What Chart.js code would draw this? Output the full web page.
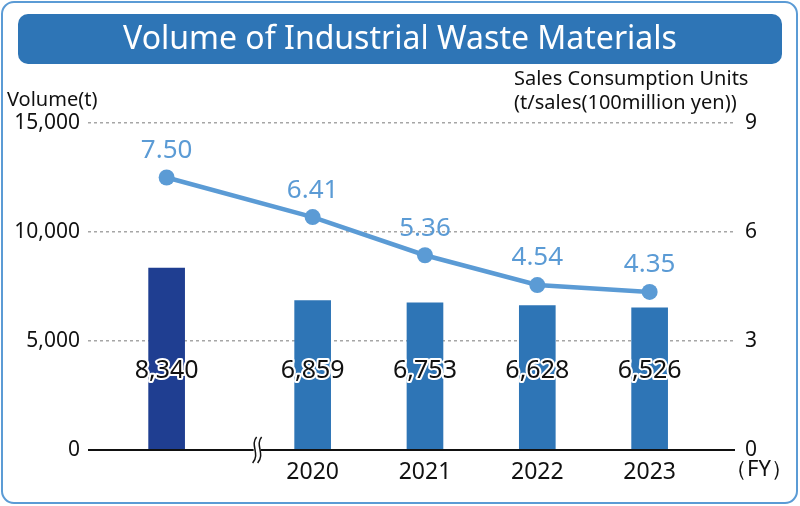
<!DOCTYPE html>
<html>
<head>
<meta charset="utf-8">
<script src="https://cdn.jsdelivr.net/npm/chart.js@4.4.0/dist/chart.umd.min.js"></script>
<style>
  html, body { margin: 0; padding: 0; background: #fff; }
  #wrap { position: relative; width: 800px; height: 506px; }
  canvas { position: absolute; left: 0; top: 0; }
</style>
</head>
<body>
<div id="wrap"><canvas id="chart" width="800" height="506"></canvas></div>
<script>
// data
const categories = ['', '2020', '2021', '2022', '2023'];
const xPositions = [2018.7, 2020, 2021, 2022, 2023]; // first bar sits left of the axis break
const volumes = [8340, 6859, 6753, 6628, 6526];
const units = [7.50, 6.41, 5.36, 4.54, 4.35];
const leftTicks = [0, 5000, 10000, 15000];
const rightTicks = [0, 3, 6, 9];

const FONT = '"Noto Sans", "Open Sans", sans-serif';
const barColors = ['#1f3e91', '#2e75b6', '#2e75b6', '#2e75b6', '#2e75b6'];
const lineColor = '#5b9bd5';

function roundRect(ctx, x, y, w, h, r) {
  ctx.beginPath();
  ctx.moveTo(x + r, y);
  ctx.arcTo(x + w, y, x + w, y + h, r);
  ctx.arcTo(x + w, y + h, x, y + h, r);
  ctx.arcTo(x, y + h, x, y, r);
  ctx.arcTo(x, y, x + w, y, r);
  ctx.closePath();
}

const decor = {
  id: 'decor',
  beforeDraw(chart) {
    const ctx = chart.ctx;
    ctx.save();
    ctx.fillStyle = '#fff';
    ctx.fillRect(0, 0, 800, 506);
    // outer frame
    roundRect(ctx, 2, 2, 795, 501, 12);
    ctx.lineWidth = 2;
    ctx.strokeStyle = '#5b9bd5';
    ctx.stroke();
    // title banner
    roundRect(ctx, 18, 14, 764, 50, 10);
    ctx.fillStyle = '#2e75b6';
    ctx.fill();
    ctx.fillStyle = '#fff';
    ctx.font = '32px ' + FONT;
    ctx.textAlign = 'center';
    ctx.textBaseline = 'middle';
    ctx.fillText('Volume of Industrial Waste Materials', 400, 40);
    // axis titles
    ctx.fillStyle = '#111';
    ctx.font = '20px ' + FONT;
    ctx.textAlign = 'left';
    ctx.fillText('Volume(t)', 7, 100);
    ctx.fillText('Sales Consumption Units', 514, 79);
    ctx.fillText('(t/sales(100million yen))', 514, 103);
    ctx.restore();
  },
  afterDatasetsDraw(chart) {
    const ctx = chart.ctx;
    const x = chart.scales.x;
    const yl = chart.scales.y;
    const yr = chart.scales.y1;
    const base = yl.getPixelForValue(0);
    ctx.save();
    // base line with break mark
    const gap = x.getPixelForValue(2018.7) + 90;
    ctx.strokeStyle = '#111';
    ctx.lineWidth = 2;
    ctx.beginPath();
    ctx.moveTo(chart.chartArea.left, base);
    ctx.lineTo(gap - 3, base);
    ctx.moveTo(gap + 4, base);
    ctx.lineTo(chart.chartArea.right, base);
    ctx.stroke();
    ctx.lineWidth = 1.5;
    [-2, 3].forEach(dx => {
      const cx = gap + dx;
      ctx.beginPath();
      ctx.moveTo(cx + 2, base - 13);
      ctx.bezierCurveTo(cx - 5, base - 5, cx + 6, base + 4, cx - 2, base + 13);
      ctx.stroke();
    });
    // bar value labels
    ctx.font = '25px ' + FONT;
    ctx.textAlign = 'center';
    ctx.textBaseline = 'middle';
    ctx.lineJoin = 'round';
    volumes.forEach((v, i) => {
      const px = x.getPixelForValue(xPositions[i]);
      const txt = v.toLocaleString('en-US');
      ctx.lineWidth = 4;
      ctx.strokeStyle = '#fff';
      ctx.strokeText(txt, px, base - 79);
      ctx.fillStyle = '#111';
      ctx.fillText(txt, px, base - 79);
    });
    // line value labels
    ctx.font = '26px ' + FONT;
    ctx.fillStyle = lineColor;
    units.forEach((v, i) => {
      const px = x.getPixelForValue(xPositions[i]);
      ctx.fillText(v.toFixed(2), px, yr.getPixelForValue(v) - 27);
    });
    // FY label
    ctx.fillStyle = '#111';
    ctx.font = '22px ' + FONT;
    ctx.fillText('（FY）', 759, base + 20);
    ctx.restore();
  }
};

new Chart(document.getElementById('chart'), {
  data: {
    datasets: [
      {
        type: 'line',
        data: xPositions.map((p, i) => ({ x: p, y: units[i] })),
        yAxisID: 'y1',
        borderColor: lineColor,
        backgroundColor: lineColor,
        borderWidth: 4.5,
        pointRadius: 8,
        pointBackgroundColor: lineColor,
        pointBorderWidth: 0,
        order: 0
      },
      {
        type: 'bar',
        data: xPositions.map((p, i) => ({ x: p, y: volumes[i] })),
        yAxisID: 'y',
        backgroundColor: barColors,
        barThickness: 36,
        order: 1
      }
    ]
  },
  options: {
    responsive: false,
    animation: false,
    events: [],
    layout: { padding: { top: 123, left: 0, right: 0, bottom: 0 } },
    plugins: { legend: { display: false }, tooltip: { enabled: false } },
    scales: {
      x: {
        type: 'linear',
        offset: false,
        min: 2018,
        max: 2023.76,
        afterBuildTicks: s => { s.ticks = categories.slice(1).map(c => ({ value: Number(c) })); },
        afterFit: s => { s.height = 56; },
        grid: { display: false, offset: false },
        border: { display: false },
        ticks: {
          callback: v => String(v),
          color: '#111',
          font: { family: FONT, size: 23 },
          padding: 1,
          maxRotation: 0
        }
      },
      y: {
        position: 'left',
        min: 0,
        max: 15000,
        afterBuildTicks: s => { s.ticks = leftTicks.map(v => ({ value: v })); },
        afterFit: s => { s.width = 88; },
        grid: {
          color: c => c.tick && c.tick.value === 0 ? 'rgba(0,0,0,0)' : '#a6a6a6',
          lineWidth: 1.5,
          drawTicks: false
        },
        border: { display: false, dash: [3, 3] },
        ticks: {
          callback: v => v.toLocaleString('en-US'),
          color: '#111',
          font: { family: FONT, size: 21 },
          padding: 8
        }
      },
      y1: {
        position: 'right',
        min: 0,
        max: 9,
        afterBuildTicks: s => { s.ticks = rightTicks.map(v => ({ value: v })); },
        afterFit: s => { s.width = 65; },
        grid: { display: false, drawTicks: false },
        border: { display: false },
        ticks: {
          color: '#111',
          font: { family: FONT, size: 21 },
          padding: 10
        }
      }
    }
  },
  plugins: [decor]
});
</script>
</body>
</html>
